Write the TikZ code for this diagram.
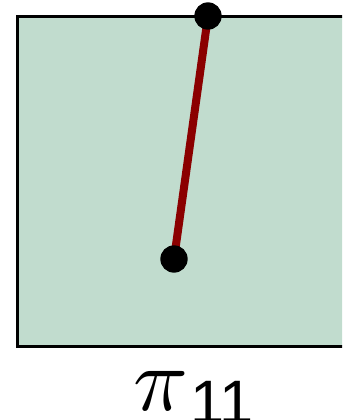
\documentclass[tikz,border=0pt]{standalone}
\usepackage{graphicx}
\usepackage{fontspec}
\newfontfamily\labelsans{Liberation Sans}
\tikzset{
  panel/.style={fill=panelgreen, draw=black, line width=2.25pt},
  link/.style={draw=linkred, line width=6pt},
  joint/.style={circle, fill=black, inner sep=0pt, minimum size=20.5pt}
}
\definecolor{panelgreen}{RGB}{193,220,206}
\definecolor{linkred}{RGB}{139,0,0}

\begin{document}
\begin{tikzpicture}[x=0.75pt, y=-0.75pt]
    \useasboundingbox (0,0) rectangle (342,420);
    \clip (0,0) rectangle (342,420);
    % panel
    \draw[panel] (17,17) rectangle (370,346);
    % link between the two joints
    \coordinate (tip) at (208,16);
    \coordinate (base) at (174,259);
    \draw[link] (tip) -- (base);
    \node[joint] (tipdot) at (tip) {};
    \node[joint] (basedot) at (base) {};
    % label
    \node[inner sep=0pt, anchor=base west] (lbl) at (133,410) {\scalebox{6.8}{$\pi$}\hspace{1.5pt}\raisebox{-10pt}{\fontsize{46}{48}\selectfont\labelsans 11}};
\end{tikzpicture}
\end{document}
